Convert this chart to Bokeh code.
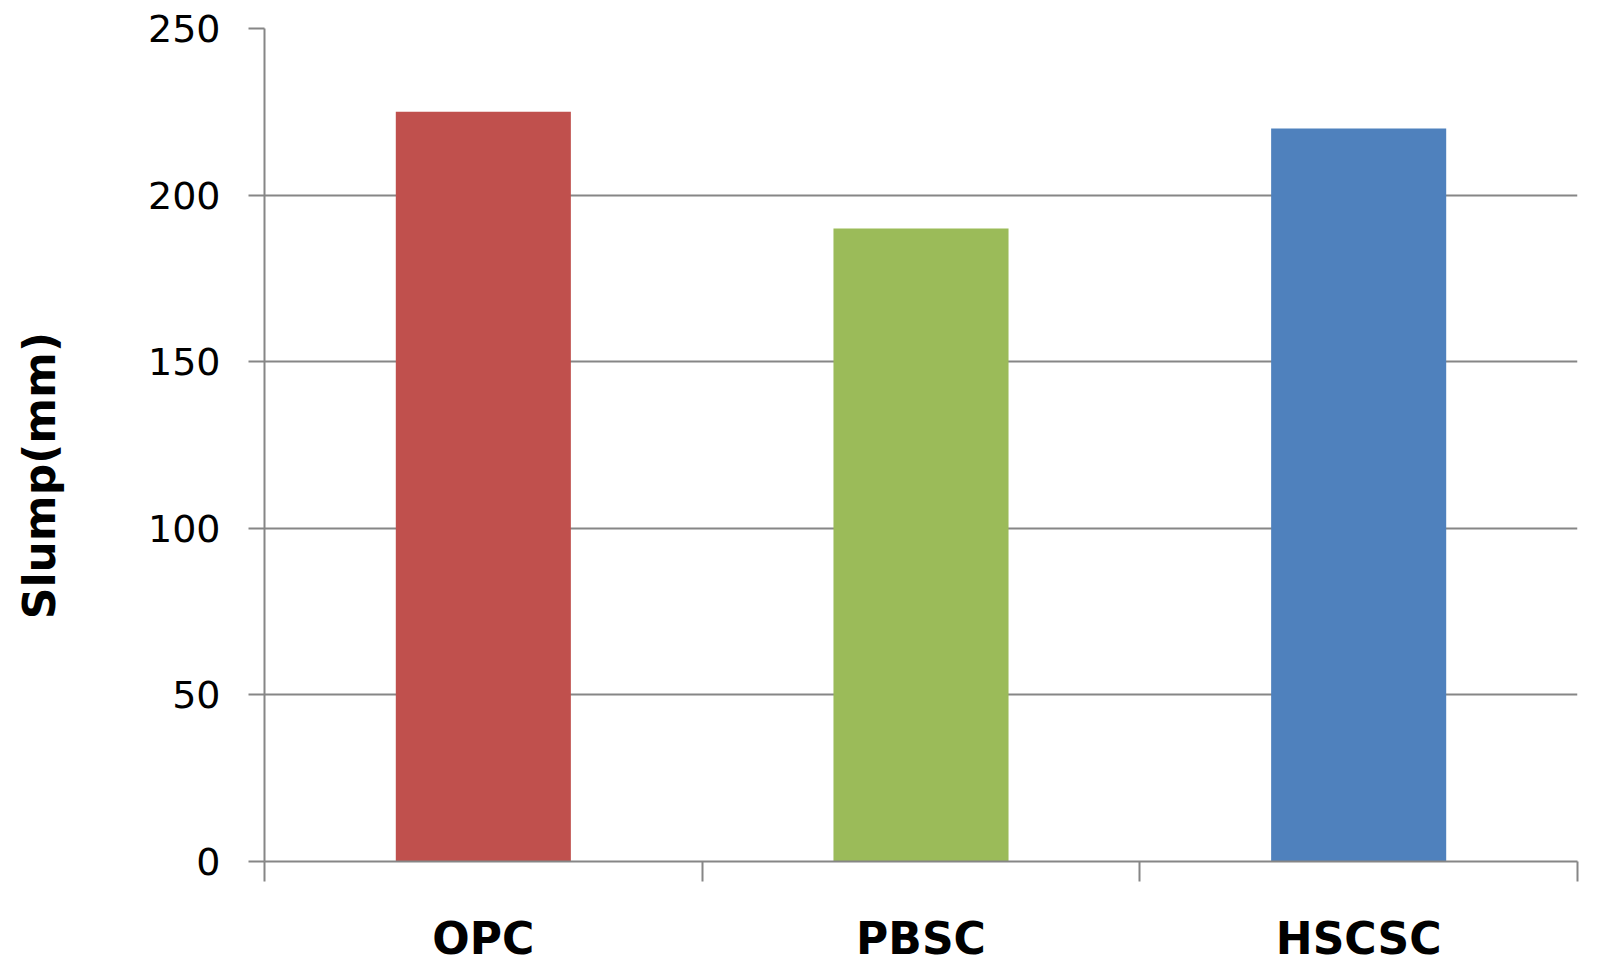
from bokeh.plotting import figure
from bokeh.models import Range1d, FixedTicker, ColumnDataSource
from bokeh.embed import file_html
from bokeh.resources import INLINE

categories = ["OPC", "PBSC", "HSCSC"]
slump = [225, 190, 220]
colors = ["#C0504D", "#9BBB59", "#4F81BD"]
y_ticks = [0, 50, 100, 150, 200, 250]
y_title = "Slump(mm)"

xs = [i + 0.5 for i in range(len(categories))]
src = ColumnDataSource(dict(x=xs, top=slump, color=colors, cat=categories))

GRAY = "#868686"

p = figure(width=1597, height=970, output_backend="svg", toolbar_location=None,
           x_range=Range1d(0, len(categories)), y_range=Range1d(0, 250),
           min_border_left=264, min_border_right=20, min_border_top=28,
           min_border_bottom=109)
p.outline_line_color = None
p.background_fill_color = "white"
p.border_fill_color = "white"

p.vbar(x="x", top="top", width=0.4, bottom=0, color="color", line_color=None, source=src)

# y axis
p.yaxis.ticker = FixedTicker(ticks=y_ticks)
p.yaxis.axis_line_color = GRAY
p.yaxis.axis_line_width = 2
p.yaxis.major_tick_line_color = GRAY
p.yaxis.major_tick_line_width = 2
p.yaxis.major_tick_in = 0
p.yaxis.major_tick_out = 16
p.yaxis.minor_tick_line_color = None
p.yaxis.minor_tick_out = 0
p.yaxis.minor_tick_in = 0
p.yaxis.major_label_standoff = 28
p.yaxis.major_label_text_font = "DejaVu Sans"
p.yaxis.major_label_text_font_size = "38px"
p.yaxis.major_label_text_color = "black"
# trailing non-breaking spaces shift the centred title slightly downward
p.yaxis.axis_label = y_title + "\u00a0" * 4
p.yaxis.axis_label_standoff = 80
p.yaxis.axis_label_text_font = "DejaVu Sans"
p.yaxis.axis_label_text_font_style = "bold"
p.yaxis.axis_label_text_font_size = "44px"
p.yaxis.axis_label_text_color = "black"

# x axis
p.xaxis.ticker = FixedTicker(ticks=xs, minor_ticks=list(range(len(categories) + 1)))
p.xaxis.major_label_overrides = {x: c for x, c in zip(xs, categories)}
p.xaxis.axis_line_color = GRAY
p.xaxis.axis_line_width = 2
p.xaxis.major_tick_line_color = None
p.xaxis.major_tick_in = 0
p.xaxis.major_tick_out = 0
p.xaxis.minor_tick_line_color = GRAY
p.xaxis.minor_tick_line_width = 2
p.xaxis.minor_tick_in = 0
p.xaxis.minor_tick_out = 20
p.xaxis.major_label_standoff = 31
p.xaxis.major_label_text_font = "DejaVu Sans"
p.xaxis.major_label_text_font_style = "bold"
p.xaxis.major_label_text_font_size = "44px"
p.xaxis.major_label_text_color = "black"

# grid
p.xgrid.grid_line_color = None
p.ygrid.ticker = FixedTicker(ticks=y_ticks)
p.ygrid.grid_line_color = GRAY
p.ygrid.grid_line_width = 2

open("out.html", "w").write(file_html(p, INLINE))
